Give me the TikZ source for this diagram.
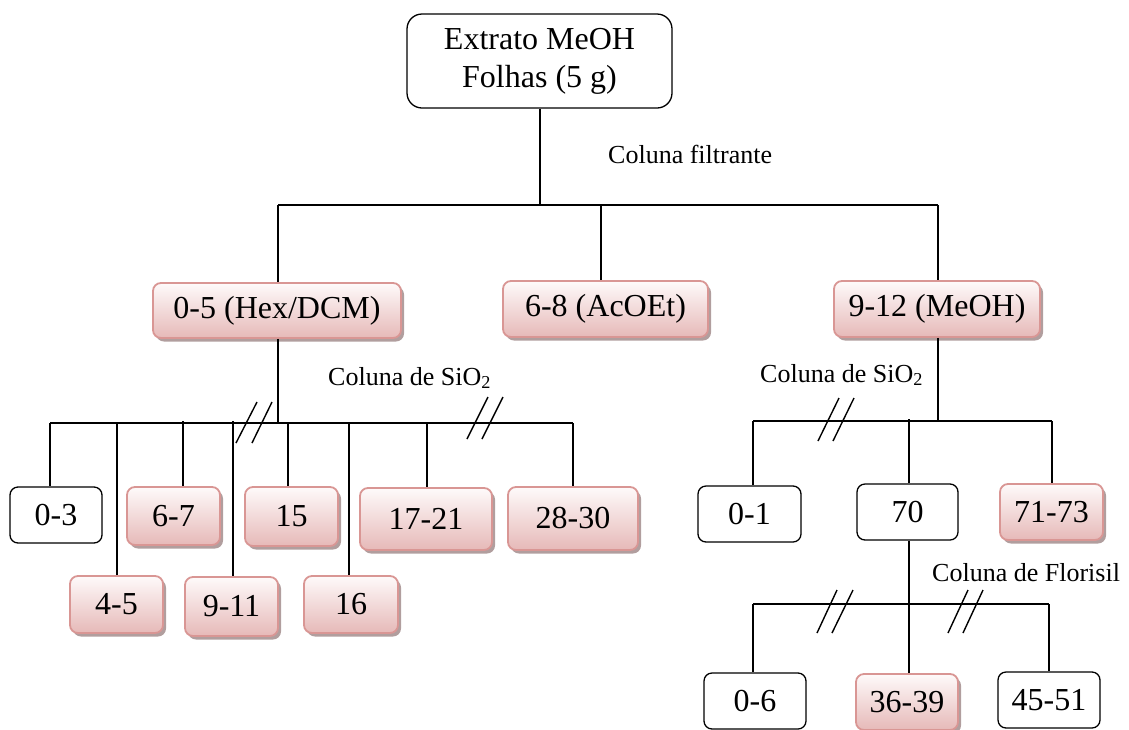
\documentclass[tikz,border=0pt]{standalone}
\usepackage{fontspec}
\setmainfont{Liberation Serif}
\usetikzlibrary{shadows}
\definecolor{pinkedge}{HTML}{D99694}
\definecolor{pinktop}{HTML}{FEFAFA}
\definecolor{pinkbot}{HTML}{E6B9B8}
\definecolor{shadowtone}{HTML}{A89494}
\begin{document}
\begin{tikzpicture}[x=1pt,y=-1pt,
  boxtext/.style={font=\fontsize{32}{38}\selectfont, inner sep=0pt, align=center},
  plainbox/.style={boxtext, draw=black, line width=1.3pt, rounded corners=8pt, fill=white},
  pinkbox/.style={boxtext, draw=pinkedge, line width=1.8pt, rounded corners=8pt,
    top color=pinktop, bottom color=pinkbot,
    drop shadow={shadow xshift=3pt, shadow yshift=-3.5pt, fill=shadowtone, opacity=0.9}},
  lab/.style={font=\fontsize{26}{30}\selectfont, inner sep=0pt},
  link/.style={line width=1.4pt, draw=black},
  cut/.style={line width=1.4pt, draw=black}
]
\useasboundingbox (0,0) rectangle (1129,729);

% root
\node[plainbox, rounded corners=15pt, minimum width=265pt, minimum height=94pt] (root) at (539.5,61)
  {Extrato MeOH\\Folhas (5 g)};

% first fractionation
\node[pinkbox, minimum width=248pt, minimum height=55pt] (hex) at (277,310.5) {0-5 (Hex/DCM)};
\node[pinkbox, minimum width=205pt, minimum height=56pt] (acoet) at (605.5,309) {6-8 (AcOEt)};
\node[pinkbox, minimum width=206pt, minimum height=56pt] (meoh) at (937,309) {9-12 (MeOH)};

% fractions of 0-5
\node[plainbox, minimum width=92pt, minimum height=56pt] (f03) at (56,515) {0-3};
\node[pinkbox, minimum width=93pt, minimum height=57pt] (f45) at (116.5,604.5) {4-5};
\node[pinkbox, minimum width=93pt, minimum height=58pt] (f67) at (173.5,516) {6-7};
\node[pinkbox, minimum width=93pt, minimum height=59pt] (f911) at (231.5,606.5) {9-11};
\node[pinkbox, minimum width=93pt, minimum height=59pt] (f15) at (291.5,516.5) {15};
\node[pinkbox, minimum width=94pt, minimum height=57pt] (f16) at (351,604.5) {16};
\node[pinkbox, minimum width=132pt, minimum height=62pt] (f1721) at (426,519) {17-21};
\node[pinkbox, minimum width=130pt, minimum height=63pt] (f2830) at (573,518.5) {28-30};

% fractions of 9-12
\node[plainbox, minimum width=103pt, minimum height=56pt] (g01) at (749.5,514) {0-1};
\node[plainbox, minimum width=101pt, minimum height=56pt] (g70) at (907.5,512) {70};
\node[pinkbox, minimum width=103pt, minimum height=56pt] (g7173) at (1051.5,512) {71-73};

% fractions of 70
\node[plainbox, minimum width=102pt, minimum height=56pt] (h06) at (755,701) {0-6};
\node[pinkbox, minimum width=102pt, minimum height=56pt] (h3639) at (907,702) {36-39};
\node[plainbox, minimum width=102pt, minimum height=56pt] (h4551) at (1049,700) {45-51};

% column labels
\node[lab, anchor=base west] (lfil) at (608,163) {Coluna filtrante};
\node[lab, anchor=base west] (lsia) at (328,385) {Coluna de SiO\textsubscript{2}};
\node[lab, anchor=base west] (lsib) at (760,382) {Coluna de SiO\textsubscript{2}};
\node[lab, anchor=base west] (lflo) at (932,581) {Coluna de Florisil};

% branch bars
\coordinate (ba) at (540,205);
\coordinate (bb) at (278,423);
\coordinate (bc) at (938,421);
\coordinate (bd) at (909,604);

% root -> first fractions
\draw[link] (root.south -| ba) -- (ba);
\draw[link] (278,205) -- (938,205);
\draw[link] (278,205) -- (hex.north -| 278,0);
\draw[link] (601,205) -- (acoet.north -| 601,0);
\draw[link] (938,205) -- (meoh.north -| 938,0);

% 0-5 -> its fractions
\draw[link] (hex.south -| bb) -- (bb);
\draw[link] (50,423) -- (573,423);
\draw[link] (50,423) -- (f03.north -| 50,0);
\draw[link] (117,423) -- (f45.north -| 117,0);
\draw[link] (183,421) -- (f67.north -| 183,0);
\draw[link] (233,421) -- (f911.north -| 233,0);
\draw[link] (288,423) -- (f15.north -| 288,0);
\draw[link] (349,423) -- (f16.north -| 349,0);
\draw[link] (427,423) -- (f1721.north -| 427,0);
\draw[link] (573,423) -- (f2830.north -| 573,0);
\draw[cut] (236,443) -- (257,402);
\draw[cut] (252,443) -- (272,402);
\draw[cut] (467,439) -- (488,397);
\draw[cut] (482,439) -- (503,397);

% 9-12 -> its fractions
\draw[link] (meoh.south -| bc) -- (bc);
\draw[link] (753,421) -- (1052,421);
\draw[link] (753,421) -- (g01.north -| 753,0);
\draw[link] (909,419) -- (g70.north -| 909,0);
\draw[link] (1052,421) -- (g7173.north -| 1052,0);
\draw[cut] (818,441) -- (839,398);
\draw[cut] (833,441) -- (854,398);

% 70 -> its fractions
\draw[link] (g70.south -| bd) -- (h3639.north -| bd);
\draw[link] (753,604) -- (1049,604);
\draw[link] (753,604) -- (h06.north -| 753,0);
\draw[link] (1049,604) -- (h4551.north -| 1049,0);
\draw[cut] (817,633) -- (837,590);
\draw[cut] (832,633) -- (853,590);
\draw[cut] (948,633) -- (968,590);
\draw[cut] (963,633) -- (983,590);
\end{tikzpicture}
\end{document}
